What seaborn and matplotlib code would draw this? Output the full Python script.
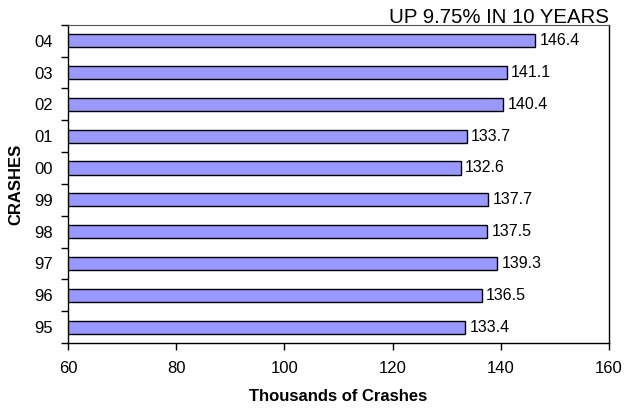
import matplotlib
matplotlib.use("Agg")
import matplotlib.pyplot as plt
import seaborn as sns
import numpy as np
import pandas as pd

# Data (top to bottom)
years = ["04", "03", "02", "01", "00", "99", "98", "97", "96", "95"]
crashes = [146.4, 141.1, 140.4, 133.7, 132.6, 137.7, 137.5, 139.3, 136.5, 133.4]

sns.set_style("white")
plt.rcParams["font.family"] = ["Liberation Sans", "DejaVu Sans"]
plt.rcParams["text.color"] = "black"
plt.rcParams["axes.labelcolor"] = "black"
plt.rcParams["xtick.color"] = "black"
plt.rcParams["ytick.color"] = "black"

df = pd.DataFrame({"year": years, "crashes": crashes})

fig = plt.figure(figsize=(6.24, 4.13), dpi=100)
ax = fig.add_axes([0.109, 0.1695, 0.867, 0.7705])

sns.barplot(
    data=df, x="crashes", y="year", orient="h", order=years,
    color="#9999FF", edgecolor="black", linewidth=1.0, width=0.41,
    saturation=1, ax=ax
)

for i, v in enumerate(crashes):
    ax.text(v + 0.8, i, f"{v:.1f}", va="center", ha="left", fontsize=11.5)

ax.set_xlim(60, 160)
ax.set_ylim(len(years) - 0.5, -0.5)
ax.set_xticks([60, 80, 100, 120, 140, 160])

# Tick marks between categories
ax.set_yticks(np.arange(-0.5, len(years), 1.0), minor=True)
ax.tick_params(axis="y", which="major", left=True, length=0, labelsize=12, pad=11)
ax.tick_params(axis="y", which="minor", left=True, length=5, width=1, direction="out")
ax.tick_params(axis="x", which="major", bottom=True, length=5, width=1,
               direction="out", labelsize=12, pad=8)

for side in ["left", "right", "bottom"]:
    ax.spines[side].set_visible(True)
    ax.spines[side].set_color("black")
    ax.spines[side].set_linewidth(1.0)
ax.spines["top"].set_visible(True)
ax.spines["top"].set_color("#555555")
ax.spines["top"].set_linewidth(0.8)

ax.set_xlabel("Thousands of Crashes", fontsize=12, fontweight="bold", labelpad=9)
ax.set_ylabel("CRASHES", fontsize=12, fontweight="bold", labelpad=8)
ax.set_title("UP 9.75% IN 10 YEARS", loc="right", fontsize=14.7, pad=1)

plt.savefig("out.png", dpi=100)
plt.close()
